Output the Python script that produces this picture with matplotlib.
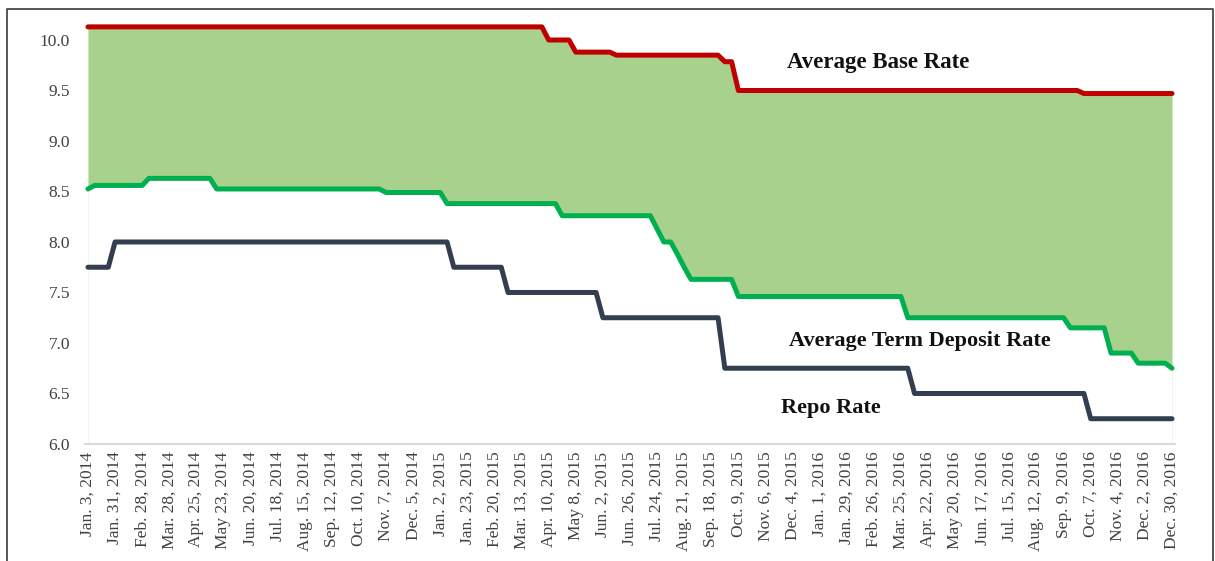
import matplotlib
matplotlib.use("Agg")
import matplotlib.pyplot as plt
import numpy as np
from matplotlib.lines import Line2D

# weekly observation dates, every fourth week is labelled
tick_labels = [
    "Jan. 3, 2014", "Jan. 31, 2014", "Feb. 28, 2014", "Mar. 28, 2014", "Apr. 25, 2014",
    "May 23, 2014", "Jun. 20, 2014", "Jul. 18, 2014", "Aug. 15, 2014", "Sep. 12, 2014",
    "Oct. 10, 2014", "Nov. 7, 2014", "Dec. 5, 2014", "Jan. 2, 2015", "Jan. 23, 2015",
    "Feb. 20, 2015", "Mar. 13, 2015", "Apr. 10, 2015", "May 8, 2015", "Jun. 2, 2015",
    "Jun. 26, 2015", "Jul. 24, 2015", "Aug. 21, 2015", "Sep. 18, 2015", "Oct. 9, 2015",
    "Nov. 6, 2015", "Dec. 4, 2015", "Jan. 1, 2016", "Jan. 29, 2016", "Feb. 26, 2016",
    "Mar. 25, 2016", "Apr. 22, 2016", "May 20, 2016", "Jun. 17, 2016", "Jul. 15, 2016",
    "Aug. 12, 2016", "Sep. 9, 2016", "Oct. 7, 2016", "Nov. 4, 2016", "Dec. 2, 2016",
    "Dec. 30, 2016",
]
label_every = 4

# rates held as (level, number of weeks at that level)
base_rate_levels = [10.13, 10.0, 9.88, 9.85, 9.785, 9.5, 9.47]
base_rate_weeks = [68, 4, 6, 16, 2, 51, 14]

deposit_levels = [8.525, 8.56, 8.63, 8.525, 8.49, 8.38, 8.26, 8.13, 8.0, 7.88, 7.75,
                  7.63, 7.46, 7.25, 7.15, 6.90, 6.80, 6.75]
deposit_weeks = [1, 8, 10, 25, 9, 17, 14, 1, 2, 1, 1, 7, 25, 24, 6, 4, 5, 1]

repo_levels = [7.75, 8.0, 7.75, 7.5, 7.25, 6.75, 6.5, 6.25]
repo_weeks = [4, 50, 8, 14, 18, 28, 26, 13]

base_rate = np.repeat(base_rate_levels, base_rate_weeks)
deposit_rate = np.repeat(deposit_levels, deposit_weeks)
repo_rate = np.repeat(repo_levels, repo_weeks)
x = np.arange(len(base_rate))

plt.rcParams["font.family"] = ["Liberation Serif", "DejaVu Serif"]

fig = plt.figure(figsize=(12.15, 5.61), dpi=100)
ax = fig.add_axes([0.0696, 0.2086, 0.8978, 0.7561])

# spread between base rate and deposit rate
ax.fill_between(x, deposit_rate, base_rate, color="#A9D18E", linewidth=0, zorder=1)
ax.fill_between(x, 6.0, deposit_rate, facecolor="white", edgecolor="#EEF3EA",
                linewidth=0.6, zorder=1)

line_kw = dict(linewidth=3.6, solid_capstyle="round", solid_joinstyle="round", zorder=3)
ax.plot(x, repo_rate, color="#333F50", **line_kw)
ax.plot(x, deposit_rate, color="#00B050", **line_kw)
ax.plot(x, base_rate, color="#C00000", **line_kw)

ax.text(116.6, 9.78, "Average Base Rate", fontsize=16.5, fontweight="bold",
        ha="center", va="center", color="#111111")
ax.text(122.8, 7.02, "Average Term Deposit Rate", fontsize=16, fontweight="bold",
        ha="center", va="center", color="#111111")
ax.text(109.7, 6.36, "Repo Rate", fontsize=16, fontweight="bold",
        ha="center", va="center", color="#111111")

ax.set_xlim(-0.5, len(x) - 0.5)
ax.set_ylim(6.0, 10.2)
ax.set_yticks(np.arange(6.0, 10.01, 0.5))
ax.set_yticklabels([f"{v:.1f}" for v in np.arange(6.0, 10.01, 0.5)])
ax.set_xticks(x[::label_every])
ax.set_xticklabels(tick_labels, rotation=90)

ax.tick_params(axis="y", length=0, pad=10.5, labelsize=12.5, labelcolor="#404040")
ax.tick_params(axis="x", length=0, pad=5.5, labelsize=12.5, labelcolor="#404040")

for side in ["top", "right", "left"]:
    ax.spines[side].set_visible(False)
ax.spines["bottom"].set_color("#D9D9D9")
ax.spines["bottom"].set_linewidth(1.5)

# outer frame, open at the bottom
frame_x = [7 / 1215, 7 / 1215, 1213 / 1215, 1213 / 1215]
frame_y = [0.0, 1 - 9 / 561, 1 - 9 / 561, 0.0]
fig.add_artist(Line2D(frame_x, frame_y, transform=fig.transFigure,
                      color="#3A3A3A", linewidth=1.2))

fig.savefig("out.png", dpi=100)
